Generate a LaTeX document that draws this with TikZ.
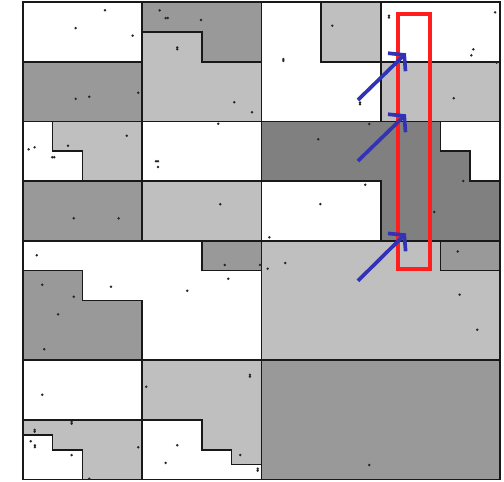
\documentclass[tikz,border=0pt]{standalone}
\usepackage{xcolor}
\usepackage{tikz}
\usetikzlibrary{arrows.meta}
\definecolor{clight}{RGB}{191,191,191}
\definecolor{cmid}{RGB}{153,153,153}
\definecolor{cdark}{RGB}{128,128,128}
\definecolor{dred}{RGB}{255,30,30}
\definecolor{dblue}{RGB}{50,50,180}

\begin{document}
\begin{tikzpicture}[
  x=0.5cm, y=0.5cm,
  cell/.style={draw=black!90, line width=1.6pt},
  wcell/.style={cell, fill=white},
  lcell/.style={cell, fill=clight},
  mcell/.style={cell, fill=cmid},
  dcell/.style={cell, fill=cdark},
  sample/.style={fill=black!85},
  window/.style={draw=dred, line width=3.5pt},
  arr/.style={-{Straight Barb[length=10pt, width=24pt]}, draw=dblue, line width=3.5pt}
]
  \useasboundingbox (-1.52,-0.10) rectangle (32.26,32.14);

  % top band
  \draw[wcell] (0,28) rectangle (8,32);
  \draw[mcell] (0,24) rectangle (8,28);
  \draw[mcell] (8,32) -- (16,32) -- (16,28) -- (12,28) -- (12,30) -- (8,30) -- cycle;
  \draw[lcell] (8,24) -- (16,24) -- (16,28) -- (12,28) -- (12,30) -- (8,30) -- cycle;
  \draw[wcell] (16,24) -- (24,24) -- (24,28) -- (20,28) -- (20,32) -- (16,32) -- cycle;
  \draw[lcell] (20,28) rectangle (24,32);
  \draw[wcell] (24,28) rectangle (32,32);
  \draw[lcell] (24,24) rectangle (32,28);

  % second band
  \draw[wcell] (0,20) -- (4,20) -- (4,22) -- (2,22) -- (2,24) -- (0,24) -- cycle;
  \draw[lcell] (2,24) -- (8,24) -- (8,20) -- (4,20) -- (4,22) -- (2,22) -- cycle;
  \draw[mcell] (0,16) rectangle (8,20);
  \draw[wcell] (8,20) rectangle (16,24);
  \draw[lcell] (8,16) rectangle (16,20);
  \draw[dcell] (16,24) -- (28,24) -- (28,22) -- (30,22) -- (30,20) -- (32,20)
    -- (32,16) -- (24,16) -- (24,20) -- (16,20) -- cycle;
  \draw[wcell] (16,16) rectangle (24,20);
  \draw[wcell] (28,24) -- (32,24) -- (32,20) -- (30,20) -- (30,22) -- (28,22) -- cycle;

  % third band
  \draw[wcell] (0,14) -- (0,16) -- (12,16) -- (12,14) -- (16,14) -- (16,8)
    -- (8,8) -- (8,12) -- (4,12) -- (4,14) -- cycle;
  \draw[mcell] (0,8) -- (8,8) -- (8,12) -- (4,12) -- (4,14) -- (0,14) -- cycle;
  \draw[mcell] (12,14) rectangle (16,16);
  \draw[lcell] (16,8) -- (32,8) -- (32,14) -- (28,14) -- (28,16) -- (16,16) -- cycle;
  \draw[mcell] (28,14) rectangle (32,16);

  % bottom band
  \draw[wcell] (0,4) rectangle (8,8);
  \draw[lcell] (0,3) -- (0,4) -- (8,4) -- (8,0) -- (4,0) -- (4,2) -- (2,2) -- (2,3) -- cycle;
  \draw[wcell] (0,0) -- (4,0) -- (4,2) -- (2,2) -- (2,3) -- (0,3) -- cycle;
  \draw[lcell] (8,8) -- (16,8) -- (16,1) -- (14,1) -- (14,2) -- (12,2) -- (12,4) -- (8,4) -- cycle;
  \draw[wcell] (8,0) -- (16,0) -- (16,1) -- (14,1) -- (14,2) -- (12,2) -- (12,4) -- (8,4) -- cycle;
  \draw[mcell] (16,0) rectangle (32,8);

  % samples
  \foreach \u/\v in {5.52/31.45, 3.55/30.26, 7.37/29.75, 9.18/31.45, 9.58/30.93, 9.72/30.93,
    11.95/30.80, 10.36/28.96, 10.36/28.84, 3.55/25.52, 4.46/25.66, 7.75/25.92,
    14.18/25.29, 15.37/24.61, 13.11/23.85, 6.97/23.04, 3.04/22.37, 0.40/22.13,
    0.80/22.27, 1.98/21.60, 2.12/21.60, 8.93/21.33, 9.07/21.33, 9.07/20.95,
    3.42/17.51, 6.43/17.51, 13.24/18.45, 16.53/16.23,
    24.55/31.08, 24.55/30.96, 31.66/31.31, 30.20/28.83, 30.07/28.43, 31.77/27.94,
    20.75/30.42, 17.47/28.18, 17.47/28.06, 22.61/25.27, 22.61/25.15, 28.89/25.55,
    23.23/23.83, 19.81/22.80, 29.53/20.01, 22.96/19.76, 19.95/18.46, 27.59/17.93,
    0.94/15.03, 5.92/12.92, 11.03/12.65, 13.54/14.38, 15.90/14.38, 13.78/13.46,
    16.42/14.13, 1.31/13.06, 3.42/12.25, 2.37/11.07, 1.45/8.73, 1.31/5.68,
    8.28/6.22, 15.23/7.02, 15.23/6.90, 3.28/3.87, 3.28/3.75, 0.80/3.33, 0.80/3.21,
    0.54/2.56, 0.82/2.29, 0.82/2.17, 3.28/1.64, 7.75/2.16, 10.36/2.29, 9.58/1.11,
    14.58/1.64, 15.75/0.72, 15.75/0.60, 4.46/0.05, 17.60/14.51, 29.16/15.29,
    29.29/12.39, 30.47/10.04, 23.23/0.97}
    \fill[sample] (\u,\v) circle (1.3pt);

  % highlighted column
  \draw[window] (25.14,14.13) rectangle (27.32,31.19);

  \coordinate (s1) at (22.47,25.44);
  \coordinate (t1) at (25.69,28.57);
  \coordinate (s2) at (22.47,21.35);
  \coordinate (t2) at (25.69,24.48);
  \coordinate (s3) at (22.47,13.32);
  \coordinate (t3) at (25.69,16.50);
  \draw[arr] (s1) -- (t1);
  \draw[arr] (s2) -- (t2);
  \draw[arr] (s3) -- (t3);

\end{tikzpicture}
\end{document}
